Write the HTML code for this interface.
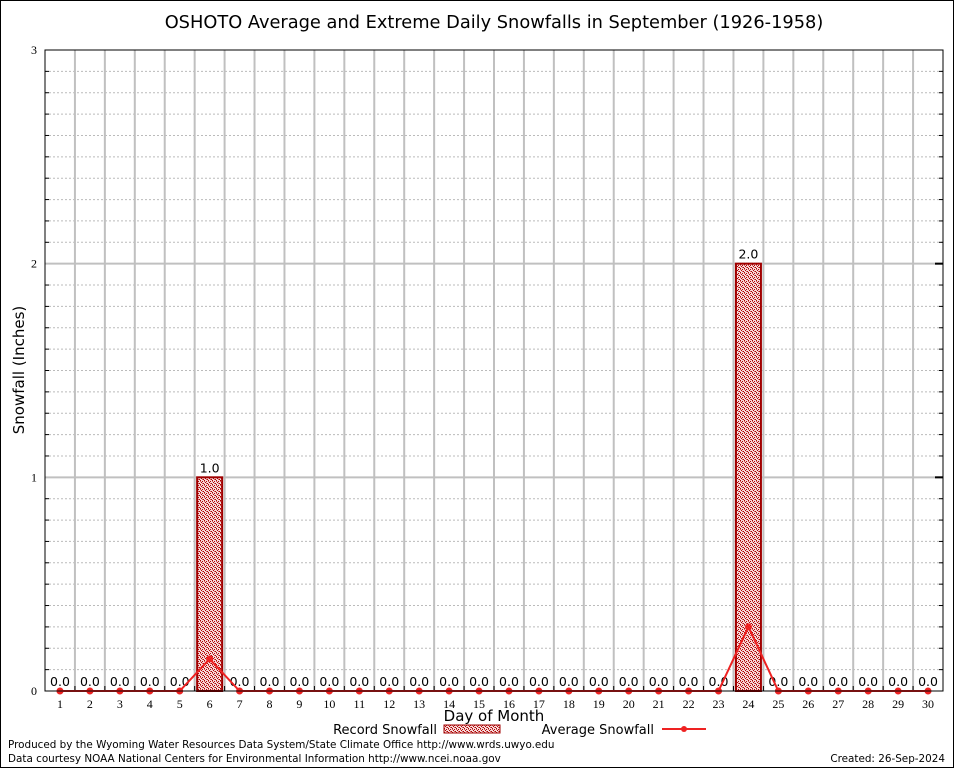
<!DOCTYPE html>
<html><head><meta charset="utf-8"><style>
body{margin:0;background:#fff;}
svg{display:block;font-family:"DejaVu Sans","Liberation Sans",sans-serif;}
</style></head><body>
<svg id="chart" width="954" height="768">
<defs>
<pattern id="hatch" x="0" y="0" width="4" height="4" patternUnits="userSpaceOnUse">
<rect width="4" height="4" fill="#f6dada"/>
<rect x="0" y="0" width="1" height="1" fill="#b00000"/>
<rect x="2" y="1" width="1" height="1" fill="#b00000"/>
<rect x="1" y="2" width="1" height="1" fill="#b00000"/>
<rect x="3" y="3" width="1" height="1" fill="#b00000"/>
<rect x="2" y="3" width="1" height="1" fill="#d06060"/>
<rect x="0" y="1" width="1" height="1" fill="#d06060"/>
</pattern>
</defs>
<rect x="0.5" y="0.5" width="953" height="767" fill="#fff" stroke="#000"/>
<text x="494" y="28" font-size="17.8" text-anchor="middle">OSHOTO Average and Extreme Daily Snowfalls in September (1926-1958)</text>
<g id="grid"></g>
<g id="marks"></g>
<rect x="45" y="50" width="898" height="641" fill="none" stroke="#000"/>
<text x="24" y="370" font-size="15" text-anchor="middle" transform="rotate(-90 24 370)">Snowfall (Inches)</text>
<text x="494" y="721" font-size="15" text-anchor="middle">Day of Month</text>
<g>
<text x="437" y="734" font-size="13" text-anchor="end">Record Snowfall</text>
<rect x="444" y="725" width="56" height="8" fill="url(#hatch)" stroke="#a00000"/>
<text x="654" y="734" font-size="13" text-anchor="end">Average Snowfall</text>
<line x1="662" y1="729" x2="706" y2="729" stroke="#ee2222" stroke-width="2"/>
<circle cx="684" cy="729" r="3" fill="#ee2222"/>
</g>
<text x="8" y="748" font-size="10.4">Produced by the Wyoming Water Resources Data System/State Climate Office http://www.wrds.uwyo.edu</text>
<text x="8" y="762" font-size="10.4">Data courtesy NOAA National Centers for Environmental Information http://www.ncei.noaa.gov</text>
<text x="945" y="762" font-size="10.4" text-anchor="end">Created:  26-Sep-2024</text>
</svg>
<script>
const days=[1,2,3,4,5,6,7,8,9,10,11,12,13,14,15,16,17,18,19,20,21,22,23,24,25,26,27,28,29,30];
const recordSnow=[0,0,0,0,0,1.0,0,0,0,0,0,0,0,0,0,0,0,0,0,0,0,0,0,2.0,0,0,0,0,0,0];
const avgSnow=[0,0,0,0,0,0.15,0,0,0,0,0,0,0,0,0,0,0,0,0,0,0,0,0,0.3,0,0,0,0,0,0];
const yTicks=[0,1,2,3];
const NS="http://www.w3.org/2000/svg";
const L=45,R=943,T=50,B=691,yMax=3;
const step=(R-L)/days.length;
function xS(d){return L+(d-0.5)*step;}
function yS(v){return B-(v/yMax)*(B-T);}
function mk(tag,attrs,parent){const e=document.createElementNS(NS,tag);for(const k in attrs)e.setAttribute(k,attrs[k]);parent.appendChild(e);return e;}
const grid=document.getElementById('grid'),marks=document.getElementById('marks');
for(let i=0;i<yMax*10;i++){const v=i/10;if(i%10===0)continue;
 const l=mk('line',{x1:L,x2:R,y1:yS(v),y2:yS(v),stroke:'#bbb','stroke-dasharray':'2,2'},grid);
 
 
 for(const x of [L,R-4]){const t=mk('line',{x1:x,x2:x+4,y1:yS(v),y2:yS(v),stroke:'#000'},grid);
 
 }
}
for(let i=1;i<days.length;i++){const x=L+i*step;
 const l=mk('line',{x1:x,x2:x,y1:T,y2:B,stroke:'#c0c0c0','stroke-width':2},grid);
 
 
 const t=mk('line',{x1:x,x2:x,y1:B-5,y2:B,stroke:'#000'},grid);
 
 
}
yTicks.forEach(v=>{
 if(v>0&&v<yMax){const l=mk('line',{x1:L,x2:R,y1:yS(v),y2:yS(v),stroke:'#c0c0c0','stroke-width':2},grid);
 
 
 const t=mk('line',{x1:R-8,x2:R,y1:yS(v),y2:yS(v),stroke:'#000','stroke-width':2},grid);
 
 }
 const tx=mk('text',{x:37,y:yS(v)+4,'font-size':12,'text-anchor':'end','font-family':'Liberation Serif, serif'},grid);
 tx.textContent=v;
 
 
});
days.forEach((d,i)=>{
 const x=xS(d),v=recordSnow[i];
 if(v>0){const r=mk('rect',{x:x-12.5,y:yS(v),width:25,height:B-yS(v),fill:'url(#hatch)',stroke:'#a00000','stroke-width':2},marks);
 
 }
 const lb=mk('text',{x:x,y:yS(v)-5,'font-size':12.5,'text-anchor':'middle'},marks);
 lb.textContent=v.toFixed(1);
 
 
 const xl=mk('text',{x:x,y:B+17,'font-size':12,'text-anchor':'middle','font-family':'Liberation Serif, serif'},marks);
 xl.textContent=d;
 
 
});
const pts=days.map((d,i)=>xS(d)+','+yS(avgSnow[i])).join(' ');
const pl=mk('polyline',{points:pts,fill:'none',stroke:'#ee2222','stroke-width':2},marks);


days.forEach((d,i)=>{const c=mk('circle',{cx:xS(d),cy:yS(avgSnow[i]),r:3.5,fill:'#ee2222'},marks);
 
 });
</script>
</body></html>
